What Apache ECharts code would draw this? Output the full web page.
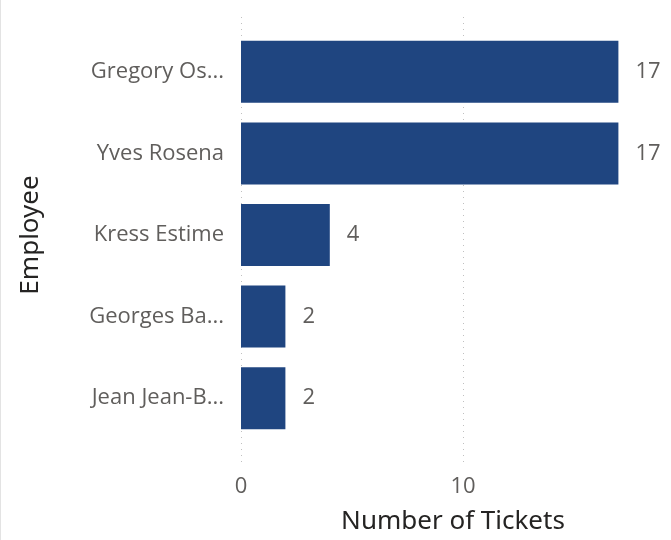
<!DOCTYPE html>
<html>
<head>
<meta charset="utf-8">
<script src="https://cdn.jsdelivr.net/npm/echarts@6/dist/echarts.min.js"></script>
<style>
  html, body { margin: 0; padding: 0; background: #fff; }
  #ticket_chart { width: 671px; height: 540px; }
</style>
</head>
<body>
<div id="ticket_chart"></div>
<script>
var employees = ['Gregory Os...', 'Yves Rosena', 'Kress Estime', 'Georges Ba...', 'Jean Jean-B...'];
var tickets = [17, 17, 4, 2, 2];
var xTicks = [0, 10];

var ticketChart = echarts.init(document.getElementById('ticket_chart'));
var labelFont = '"Open Sans", "Noto Sans", sans-serif';
var titleFont = '"Noto Sans", "DejaVu Sans", sans-serif';

ticketOption = {
    animation: false,
    graphic: [
        { type: 'line', shape: { x1: 0.5, y1: 0, x2: 0.5, y2: 540 }, style: { stroke: '#e3e3e3', lineWidth: 1 } }
    ],
    grid: [
        { left: 241, width: 444, top: 31, height: 408, outerBoundsMode: 'none' },
        { left: 241, width: 444, top: 17, height: 446, outerBoundsMode: 'none' }
    ],
    xAxis: [
        { gridIndex: 0, type: 'value', min: 0, max: 20, show: false },
        {
            gridIndex: 1, type: 'value', min: 0, max: 20, interval: 10,
            axisLine: { show: false },
            axisTick: { show: false },
            axisLabel: {
                color: '#605e5c', fontSize: 22, fontFamily: labelFont, margin: 13,
                formatter: function (v) { return xTicks.indexOf(v) >= 0 ? String(v) : ''; }
            },
            splitLine: { show: true, lineStyle: { color: '#c0c0c0', type: [1, 5], width: 1 } },
            name: 'Number of Tickets',
            nameLocation: 'middle',
            nameGap: 46,
            nameTextStyle: { color: '#252423', fontSize: 26, fontFamily: titleFont, padding: [0, 20, 0, 0] }
        }
    ],
    yAxis: [
        {
            gridIndex: 0, type: 'category', data: employees, inverse: true,
            axisLine: { show: false },
            axisTick: { show: false },
            axisLabel: { color: '#605e5c', fontSize: 22, fontFamily: labelFont, margin: 17 },
            name: 'Employee',
            nameLocation: 'middle',
            nameGap: 197,
            nameTextStyle: { color: '#252423', fontSize: 26, fontFamily: titleFont }
        },
        { gridIndex: 1, type: 'value', show: false }
    ],
    series: [
        {
            name: 'Number of Tickets',
            type: 'bar',
            xAxisIndex: 0,
            yAxisIndex: 0,
            data: tickets,
            barCategoryGap: '24%',
            itemStyle: { color: '#1f4580' },
            label: {
                show: true, position: 'right', distance: 17,
                color: '#605e5c', fontSize: 22, fontFamily: labelFont
            }
        }
    ]
};

ticketChart.setOption(ticketOption);
</script>
</body>
</html>
